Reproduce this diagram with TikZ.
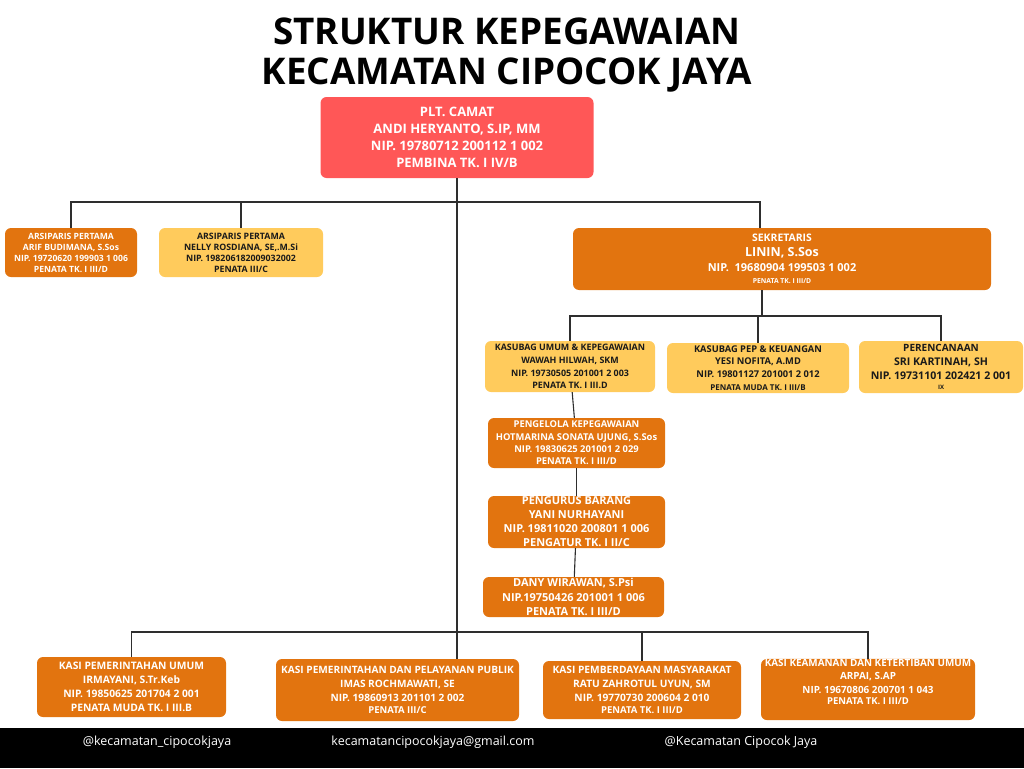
\documentclass[tikz,border=0pt]{standalone}
\usepackage{fontspec}
\setmainfont{Open Sans}
\usetikzlibrary{positioning}

\definecolor{camatred}{HTML}{FF5757}
\definecolor{kasiorange}{HTML}{E2740F}
\definecolor{subyellow}{HTML}{FFCB5C}
\definecolor{darktext}{HTML}{1A1A1A}
\definecolor{linkgray}{HTML}{2E2E2E}

\newcommand{\fs}[2]{\fontsize{#1}{#2}\selectfont}

\begin{document}
\begin{tikzpicture}[x=1pt,y=-1pt,
    unit/.style={rectangle,rounded corners=6pt,align=center,inner sep=0pt},
    sz/.style 2 args={font=\bfseries\fontsize{#1}{#2}\selectfont},
    redbox/.style={unit,fill=camatred,text=white},
    orangebox/.style={unit,fill=kasiorange,text=white},
    yellowbox/.style={unit,fill=subyellow,text=darktext},
    link/.style={draw=linkgray,line width=1.1pt}]
      \useasboundingbox (0,0) rectangle (1024,768);

      % title
      \node[sz={36.8}{40},align=center] (title) at (507,55) {STRUKTUR KEPEGAWAIAN\\KECAMATAN CIPOCOK JAYA};

      % camat and staff
      \node[redbox,sz={13}{17},minimum width=273,minimum height=81] (camat) at (457,137.5)
        {PLT. CAMAT\\ANDI HERYANTO, S.IP, MM\\NIP. 19780712 200112 1 002\\PEMBINA TK. I IV/B};
      \node[orangebox,sz={8.6}{11},minimum width=132,minimum height=49] (arsip1) at (71,252.5)
        {ARSIPARIS PERTAMA\\ARIF BUDIMANA, S.Sos\\NIP. 19720620 199903 1 006\\PENATA TK. I III/D};
      \node[yellowbox,sz={8.8}{11},minimum width=164,minimum height=49] (arsip2) at (241,252.5)
        {ARSIPARIS PERTAMA\\NELLY ROSDIANA, SE,.M.Si\\NIP. 198206182009032002\\PENATA III/C};
      \node[orangebox,sz={11}{15},minimum width=418,minimum height=62] (sekre) at (782,259)
        {{\fs{10.4}{14}SEKRETARIS}\\{\fs{12.5}{16}LININ, S.Sos}\\NIP.\ \ 19680904 199503 1 002\\[-3pt]{\fs{6.8}{8}PENATA TK. I III/D}};

      % sekretariat
      \node[yellowbox,sz={8.9}{12.8},minimum width=170,minimum height=51] (kumum) at (570,366.5)
        {KASUBAG UMUM \& KEPEGAWAIAN\\WAWAH HILWAH, SKM\\NIP. 19730505 201001 2 003\\PENATA TK. I III.D};
      \node[yellowbox,sz={9.3}{12.7},minimum width=182,minimum height=50] (kpep) at (758,368)
        {KASUBAG PEP \& KEUANGAN\\YESI NOFITA, A.MD\\NIP. 19801127 201001 2 012\\{\fs{8}{10}PENATA MUDA TK. I III/B}};
      \node[yellowbox,sz={10.6}{14},minimum width=164,minimum height=52] (renc) at (941,367)
        {{\fs{10}{14}PERENCANAAN}\\SRI KARTINAH, SH\\NIP. 19731101 202421 2 001\\[-4pt]{\fs{6}{8}IX}};
      \node[orangebox,sz={9.4}{12.4},minimum width=177,minimum height=50] (kelola) at (576.5,443)
        {PENGELOLA KEPEGAWAIAN\\HOTMARINA SONATA UJUNG, S.Sos\\NIP. 19830625 201001 2 029\\PENATA TK. I III/D};
      \node[orangebox,sz={11}{14},minimum width=177,minimum height=52] (urus) at (576.5,522)
        {PENGURUS BARANG\\YANI NURHAYANI\\NIP. 19811020 200801 1 006\\PENGATUR TK. I II/C};
      \node[orangebox,sz={11}{14.5},minimum width=181,minimum height=40] (dany) at (573.5,597)
        {DANY WIRAWAN, S.Psi\\NIP.19750426 201001 1 006\\PENATA TK. I III/D};

      % kasi
      \node[orangebox,sz={10.3}{14},minimum width=189,minimum height=60] (kasi1) at (131.5,687)
        {KASI PEMERINTAHAN UMUM\\IRMAYANI, S.Tr.Keb\\NIP. 19850625 201704 2 001\\PENATA MUDA TK. I III.B};
      \node[orangebox,sz={10.1}{14},minimum width=243,minimum height=62] (kasi2) at (397.5,690)
        {KASI PEMERINTAHAN DAN PELAYANAN PUBLIK\\IMAS ROCHMAWATI, SE\\NIP. 19860913 201101 2 002\\[-2pt]{\fs{9.5}{11}PENATA III/C}};
      \node[orangebox,sz={10.2}{14},minimum width=198,minimum height=58] (kasi3) at (642,690)
        {KASI PEMBERDAYAAN MASYARAKAT\\RATU ZAHROTUL UYUN, SM\\NIP. 19770730 200604 2 010\\[-2pt]{\fs{9.5}{11}PENATA TK. I III/D}};
      \node[orangebox,sz={9.9}{13.5},minimum width=214,minimum height=61] (kasi4) at (868,689.5)
        {KASI KEAMANAN DAN KETERTIBAN UMUM\\ARPAI, S.AP\\NIP. 19670806 200701 1 043\\[-2pt]{\fs{9.5}{11}PENATA TK. I III/D}\\[2pt]};

      % connectors
      \coordinate (hubTop) at (455,202);
      \coordinate (sekIn) at (760,228);
      \coordinate (sekOut) at (762,290);
      \coordinate (hubSek) at (762,316);
      \coordinate (hubBot) at (455,632);

      \draw[link] (camat.south) -- (camat.south |- kasi2.north);
      \draw[link] (arsip1.north) -- (arsip1.north |- hubTop) -- (sekIn |- hubTop) -- (sekIn);
      \draw[link] (arsip2.north) -- (arsip2.north |- hubTop);
      \draw[link] (sekOut) -- (hubSek);
      \draw[link] (kumum.north) |- (hubSek) -| (renc.north);
      \draw[link] (kpep.north) -- (kpep.north |- hubSek);
      \path[link]
      (kumum) edge (kelola)
      (kelola) edge (urus)
      (urus) edge (dany)
      ;
      \draw[link] (kasi1.north) |- (hubBot) -| (kasi4.north);
      \draw[link] (kasi3.north) -- (kasi3.north |- hubBot);

      % footer
      \fill[black] (0,728) rectangle (1024,768);
      \node[text=white,font=\fs{12.5}{15}] (insta) at (157,742) {@kecamatan\_cipocokjaya};
      \node[text=white,font=\fs{12.5}{15}] (mail) at (433,742) {kecamatancipocokjaya@gmail.com};
      \node[text=white,font=\fs{12.5}{15}] (fbook) at (741,742) {@Kecamatan Cipocok Jaya};
\end{tikzpicture}
\end{document}
